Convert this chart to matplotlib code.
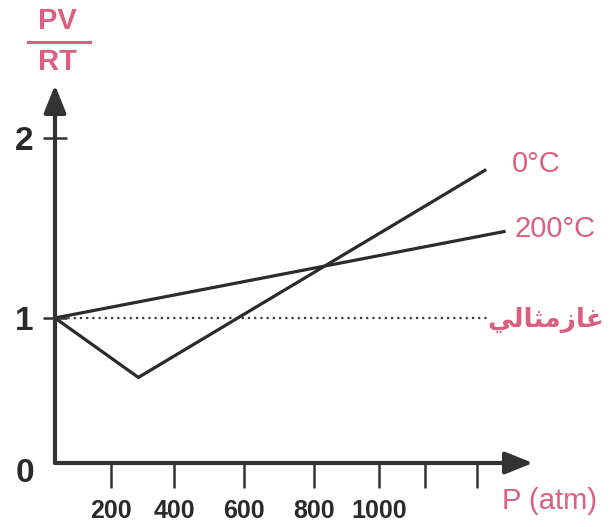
import numpy as np
import matplotlib
matplotlib.use("Agg")
import matplotlib.pyplot as plt
from matplotlib.lines import Line2D

# ---------------- data ----------------
pressure_ticks = [200, 400, 600, 800, 1000]
pressure_tick_labels = ["200", "400", "600", "800", "1000"]
extra_pressure_ticks = [1140, 1300]
z_ticks = [1, 2]
z_tick_labels = ["1", "2"]

p_0c = [0, 287, 1324]
z_0c = [1.0, 0.59, 1.82]
p_200c = [0, 1383]
z_200c = [1.0, 1.48]
p_ideal = [0, 1330]
z_ideal = [1.0, 1.0]

label_0c = "0°C"
label_200c = "200°C"
label_ideal_logical = "غازمثالي"
# visual (left-to-right) order with Arabic presentation forms, since
# matplotlib does not shape or reorder Arabic text
label_ideal = "\uFEF2\uFEDF\uFE8E\uFE9C\uFEE3\uFEAF\uFE8E\uFECF"
x_label = "P (atm)"
y_label_top = "PV"
y_label_bottom = "RT"

# ---------------- style ----------------
PINK = "#dc5f7f"
INK = "#2b2b2b"
plt.rcParams["font.family"] = ["Liberation Sans", "DejaVu Sans"]

W, H = 610, 527
fig = plt.figure(figsize=(W / 100, H / 100), dpi=100)


def fx(px):
    return px / W


def fy(py):
    return 1 - py / H


# axes placed by pixel corners: origin (55,463), arrow tips x=533, y=85
ax = fig.add_axes([fx(55), fy(463), (533 - 55) / W, (463 - 85) / H])


def piecewise(v, xs, ys):
    v = np.asarray(v, dtype=float)
    out = np.interp(v, xs, ys)
    lo_slope = (ys[1] - ys[0]) / (xs[1] - xs[0])
    hi_slope = (ys[-1] - ys[-2]) / (xs[-1] - xs[-2])
    out = np.where(v < xs[0], ys[0] + (v - xs[0]) * lo_slope, out)
    out = np.where(v > xs[-1], ys[-1] + (v - xs[-1]) * hi_slope, out)
    return out


# the schematic drawing has uneven axis spacing
XK = [0, 200, 400, 600, 800, 1000]
XP = [0, 55, 117, 186, 255, 319]
YK = [0, 1, 2]
YP = [0, 145, 325]

ax.set_xscale("function", functions=(lambda v: piecewise(v, XK, XP),
                                     lambda v: piecewise(v, XP, XK)))
ax.set_yscale("function", functions=(lambda v: piecewise(v, YK, YP),
                                     lambda v: piecewise(v, YP, YK)))
ax.set_xlim(0, 1472)
ax.set_ylim(0, 2.294)

ax.plot(p_0c, z_0c, color=INK, lw=2.3, solid_joinstyle="miter", clip_on=False)
ax.plot(p_200c, z_200c, color=INK, lw=2.3, clip_on=False)
ax.plot(p_ideal, z_ideal, color="#3a3a3a", lw=1.6, linestyle=(0, (1, 1.8)), clip_on=False)

for s in ax.spines.values():
    s.set_visible(False)

# axes with arrowheads
arrow_kw = dict(arrowstyle="-|>,head_length=0.8,head_width=0.32", color="#333333",
                lw=3, mutation_scale=21, shrinkA=0, shrinkB=0)
ax.annotate("", xy=(1, 0), xytext=(0, 0), xycoords="axes fraction",
            textcoords="axes fraction", arrowprops=arrow_kw)
ax.annotate("", xy=(0, 1), xytext=(0, 0), xycoords="axes fraction",
            textcoords="axes fraction", arrowprops=arrow_kw)

ax.set_xticks(pressure_ticks)
ax.set_xticklabels(pressure_tick_labels, fontsize=18, fontweight="bold", color="#2a2a2a")
ax.set_xticks(extra_pressure_ticks, minor=True)
ax.tick_params(axis="x", which="both", direction="out", length=18, width=1.8,
               color="#333333", pad=8)
ax.set_yticks(z_ticks)
ax.set_yticklabels(z_tick_labels, fontsize=24, fontweight="bold", color="#2a2a2a")
ax.tick_params(axis="y", direction="inout", length=17, width=1.8, color="#333333", pad=7)
ax.yaxis.set_minor_locator(matplotlib.ticker.NullLocator())

# origin label
fig.text(fx(25), fy(473), "0", fontsize=24, fontweight="bold", color="#2a2a2a",
         ha="center", va="center")

# y label as a fraction
fig.text(fx(57), fy(21), y_label_top, fontsize=21, fontweight="bold", color=PINK,
         ha="center", va="center")
fig.text(fx(58), fy(62), y_label_bottom, fontsize=21, fontweight="bold", color=PINK,
         ha="center", va="center")
fig.add_artist(Line2D([fx(28), fx(90)], [fy(42), fy(42)], color=PINK, lw=2.2))

# series labels
fig.text(fx(536), fy(164), label_0c, fontsize=21, color=PINK, ha="center", va="center")
fig.text(fx(555), fy(229), label_200c, fontsize=21, color=PINK, ha="center", va="center")
fig.text(fx(546), fy(320), label_ideal, fontsize=19, fontweight="bold", color=PINK,
         ha="center", va="center", family=["DejaVu Sans"])
fig.text(fx(502), fy(501), x_label, fontsize=21, color=PINK, ha="left", va="center")

fig.savefig("out.png", dpi=100, facecolor="white")
